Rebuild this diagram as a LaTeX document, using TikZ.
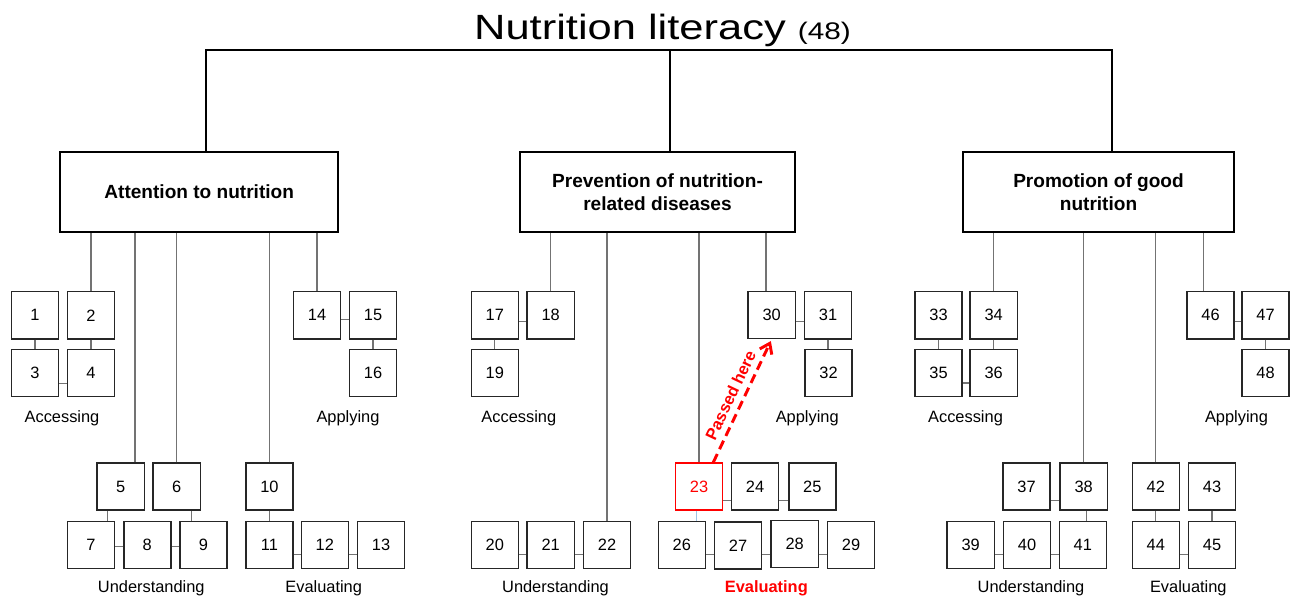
\documentclass[tikz,border=0pt]{standalone}
\usepackage{fontspec}
\setmainfont{Liberation Sans}
\usepackage{graphicx}
\usetikzlibrary{arrows.meta}
\definecolor{linkblue}{RGB}{157,195,230}

\begin{document}
\begin{tikzpicture}[x=0.75pt, y=-0.75pt,
    box/.style={draw=black!85, line width=1.1pt, minimum size=35.3pt, inner sep=0pt, font=\fontsize{12.3}{14}\selectfont},
    cat/.style={draw, line width=1.5pt, minimum height=60pt, align=center, font=\fontsize{14.3}{17.3}\selectfont\bfseries},
    link/.style={draw=black!55, line width=0.8pt},
    trunk/.style={line width=1.4pt},
    lbl/.style={anchor=base, font=\fontsize{12.3}{14}\selectfont}]
    \useasboundingbox (0,0) rectangle (1290,598);

    % Titel
    \node[anchor=base] (title) at (662.5,39.5) {\scalebox{1.24}[1]{\fontsize{26.3}{30}\selectfont Nutrition literacy \fontsize{18}{20}\selectfont(48)}};

    % Hauptbereiche
    \node[cat, minimum width=208.5pt] (att) at (199.2,192) {Attention to nutrition};
    \node[cat, minimum width=206.3pt] (prev) at (657.5,192) {Prevention of nutrition-\\related diseases};
    \node[cat, minimum width=203.3pt] (promo) at (1098.5,192) {Promotion of good\\nutrition};

    \coordinate (root) at (670,50);
    \draw[trunk] ([xshift=5.1pt]att.north) |- (root) -| ([xshift=10.2pt]promo.north);
    \draw[trunk] (root) -- (root |- prev.north);

    % Attention to nutrition
    \node[box] (b1) at (35,315.3) {1};
    \node[box] (b2) at (91,315.3) {2};
    \node[box] (b3) at (35,373.2) {3};
    \node[box] (b4) at (91,373.2) {4};
    \node[box] (b5) at (120.7,486.7) {5};
    \node[box] (b6) at (176.7,486.7) {6};
    \node[box] (b7) at (91,544.8) {7};
    \node[box] (b8) at (147.3,544.8) {8};
    \node[box] (b9) at (203.5,544.8) {9};
    \node[box] (b10) at (269.5,486.7) {10};
    \node[box] (b11) at (269.5,544.8) {11};
    \node[box] (b12) at (324.8,544.8) {12};
    \node[box] (b13) at (381,544.8) {13};
    \node[box] (b14) at (317,315.3) {14};
    \node[box] (b15) at (373,315.3) {15};
    \node[box] (b16) at (373,373.2) {16};

    \draw[link] (b2.north) -- (b2.north |- att.south);
    \draw[link] ([xshift=10.7pt]b5.north) -- ([xshift=10.7pt]b5.north |- att.south);
    \draw[link] (b6.north) -- (b6.north |- att.south);
    \draw[link] (b10.north) -- (b10.north |- att.south);
    \draw[link] (b14.north) -- (b14.north |- att.south);
    \draw[link] (b1) -- (b3);
    \draw[link] (b2) -- (b4);
    \draw[link] ([yshift=-8pt]b3.east) -- ([yshift=-8pt]b4.west);
    \draw[link] ([xshift=-10pt]b5.south) -- ([xshift=-10pt]b5.south |- b7.north);
    \draw[link] ([xshift=11.2pt]b6.south) -- ([xshift=11.2pt]b6.south |- b9.north);
    \draw[link] ([yshift=-1.5pt]b7.east) -- ([yshift=-1.5pt]b8.west);
    \draw[link] ([yshift=-1.5pt]b8.east) -- ([yshift=-1.5pt]b9.west);
    \draw[link] (b10) -- (b11);
    \draw[link] ([yshift=-7.5pt]b11.east) -- ([yshift=-7.5pt]b12.west);
    \draw[link] ([yshift=-7.5pt]b12.east) -- ([yshift=-7.5pt]b13.west);
    \draw[link] ([yshift=-3.4pt]b14.east) -- ([yshift=-3.4pt]b15.west);
    \draw[link] (b15) -- (b16);

    \node[lbl] at (62,422.5) {Accessing};
    \node[lbl] at (348,422.5) {Applying};
    \node[lbl] at (151.3,592.5) {Understanding};
    \node[lbl] at (323.7,592.5) {Evaluating};

    % Prevention of nutrition-related diseases
    \node[box] (b17) at (494.8,315.3) {17};
    \node[box] (b18) at (550.7,315.3) {18};
    \node[box] (b19) at (494.8,373) {19};
    \node[box] (b20) at (494.8,544.8) {20};
    \node[box] (b21) at (550.7,544.8) {21};
    \node[box] (b22) at (607,544.8) {22};
    \node[box, draw=red, text=red] (b23) at (699,486.7) {23};
    \node[box] (b24) at (755,486.7) {24};
    \node[box] (b25) at (812.3,486.7) {25};
    \node[box] (b26) at (681.8,544.8) {26};
    \node[box] (b27) at (738,545.7) {27};
    \node[box] (b28) at (794.7,543.8) {28};
    \node[box] (b29) at (851,544.8) {29};
    \node[box] (b30) at (771.7,315) {30};
    \node[box] (b31) at (828,315.3) {31};
    \node[box] (b32) at (828.5,372.8) {32};

    \draw[link] (b18.north) -- (b18.north |- prev.south);
    \draw[link] (b22.north) -- (b22.north |- prev.south);
    \draw[link] (b23.north) -- (b23.north |- prev.south);
    \draw[link] ([xshift=-4.3pt]b30.north) -- ([xshift=-4.3pt]b30.north |- prev.south);
    \draw[link] ([yshift=-5pt]b17.east) -- ([yshift=-5pt]b18.west);
    \draw[link] (b17) -- (b19);
    \draw[link] ([yshift=-7.5pt]b20.east) -- ([yshift=-7.5pt]b21.west);
    \draw[link] ([yshift=-7.5pt]b21.east) -- ([yshift=-7.5pt]b22.west);
    \draw[link] ([yshift=-10.5pt]b23.east) -- ([yshift=-10.5pt]b24.west);
    \draw[link] ([yshift=-10.5pt]b24.east) -- ([yshift=-10.5pt]b25.west);
    \draw[link, draw=linkblue] ([xshift=-1.7pt]b23.south) -- ([xshift=-1.7pt]b23.south |- b26.north);
    \draw[link] ([yshift=-7.5pt]b26.east) -- ([yshift=-7.5pt]b26.east -| b27.west);
    \draw[link] ([yshift=-7.5pt]b26.east -| b27.east) -- ([yshift=-7.5pt]b26.east -| b28.west);
    \draw[link] ([yshift=-7.5pt]b26.east -| b28.east) -- ([yshift=-7.5pt]b26.east -| b29.west);
    \draw[link] ([yshift=-5pt]b30.east) -- ([yshift=-5pt]b30.east -| b31.west);
    \draw[link] (b31.south) -- (b31.south |- b32.north);

    % Weg von 23 nach 30
    \draw[red, line width=2.2pt, dash pattern=on 7pt off 4pt, shorten >=1.5pt, -{Straight Barb[length=7pt, width=10pt]}]
        ([xshift=10.7pt]b23.north) -- (b30.south)
        node[midway, sloped, above=1pt, text=red, font=\fontsize{12.3}{14}\selectfont\bfseries] {Passed here};

    \node[lbl] at (518.8,422.5) {Accessing};
    \node[lbl] at (807.2,422.5) {Applying};
    \node[lbl] at (555.5,592.5) {Understanding};
    \node[lbl, text=red, font=\fontsize{12.3}{14}\selectfont\bfseries] at (766.3,592.5) {Evaluating};

    % Promotion of good nutrition
    \node[box] (b33) at (938.5,315.3) {33};
    \node[box] (b34) at (993.7,315.3) {34};
    \node[box] (b35) at (938.5,373) {35};
    \node[box] (b36) at (993.7,373) {36};
    \node[box] (b37) at (1026.5,486.7) {37};
    \node[box] (b38) at (1083.7,486.7) {38};
    \node[box] (b39) at (970.7,544.8) {39};
    \node[box] (b40) at (1027,544.8) {40};
    \node[box] (b41) at (1082.8,544.8) {41};
    \node[box] (b42) at (1155.8,486.7) {42};
    \node[box] (b43) at (1212,486.7) {43};
    \node[box] (b44) at (1155.8,544.8) {44};
    \node[box] (b45) at (1212,544.8) {45};
    \node[box] (b46) at (1210.5,315.3) {46};
    \node[box] (b47) at (1265.5,315.3) {47};
    \node[box] (b48) at (1265.5,373) {48};

    \draw[link] (b34.north) -- (b34.north |- promo.south);
    \draw[link] (b38.north) -- (b38.north |- promo.south);
    \draw[link] (b42.north) -- (b42.north |- promo.south);
    \draw[link] ([xshift=-5.4pt]b46.north) -- ([xshift=-5.4pt]b46.north |- promo.south);
    \draw[link] (b33) -- (b35);
    \draw[link] (b34) -- (b36);
    \draw[link] ([yshift=-7.5pt]b35.east) -- ([yshift=-7.5pt]b36.west);
    \draw[link] ([yshift=-10.5pt]b37.east) -- ([yshift=-10.5pt]b38.west);
    \draw[link] ([xshift=2.2pt]b38.south) -- ([xshift=2.2pt]b38.south |- b41.north);
    \draw[link] ([yshift=-7.5pt]b39.east) -- ([yshift=-7.5pt]b40.west);
    \draw[link] ([yshift=-7.5pt]b40.east) -- ([yshift=-7.5pt]b41.west);
    \draw[link] (b42) -- (b44);
    \draw[link] (b43) -- (b45);
    \draw[link] ([yshift=-7.5pt]b44.east) -- ([yshift=-7.5pt]b45.west);
    \draw[link] ([yshift=-5pt]b46.east) -- ([yshift=-5pt]b47.west);
    \draw[link] (b47) -- (b48);

    \node[lbl] at (965.5,422.5) {Accessing};
    \node[lbl] at (1236.5,422.5) {Applying};
    \node[lbl] at (1031,592.5) {Understanding};
    \node[lbl] at (1188.3,592.5) {Evaluating};
\end{tikzpicture}
\end{document}
